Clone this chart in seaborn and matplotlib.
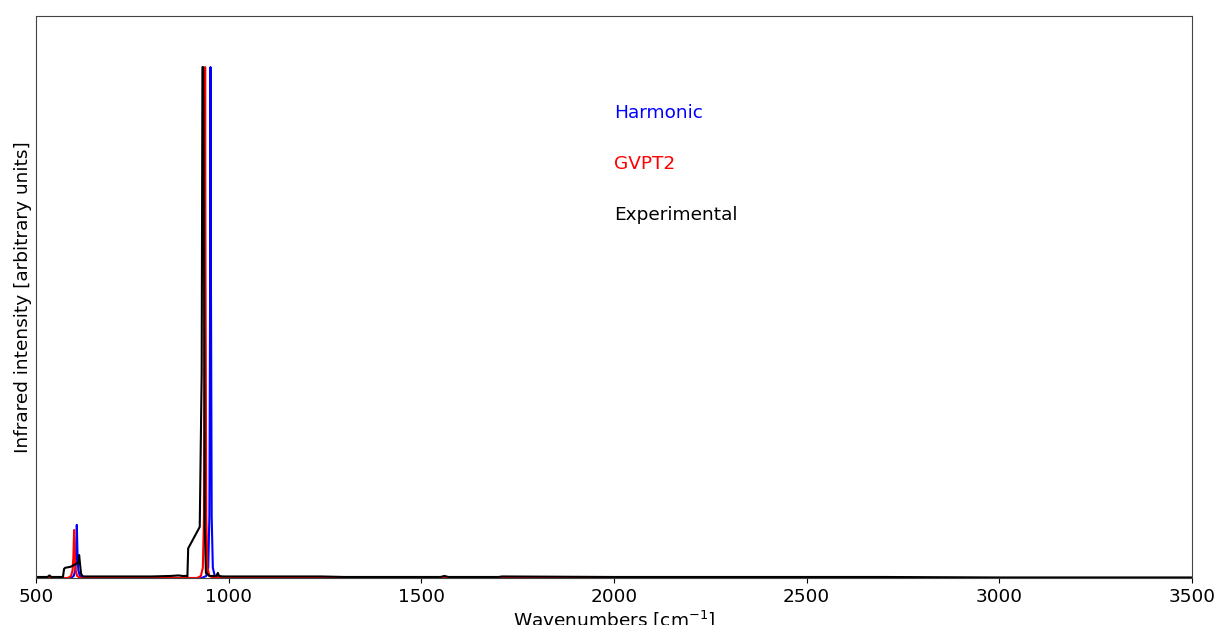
import numpy as np
import pandas as pd
import matplotlib
matplotlib.use('Agg')
import matplotlib.pyplot as plt
import seaborn as sns

# harmonic spectrum (blue)
harm_x = [500, 590, 598, 602, 604, 606, 608, 610, 614, 622, 930, 942, 947, 950, 952, 953, 954, 956, 959, 964, 976, 3500]
harm_y = [0.0, 0.0, 0.004, 0.015, 0.04, 0.104, 0.04, 0.015, 0.004, 0.0, 0.0, 0.004, 0.02, 0.12, 0.6, 1.0, 0.6, 0.12, 0.02, 0.004, 0.0, 0.0]

# anharmonic GVPT2 spectrum (red)
gvpt_x = [500, 583, 591, 595, 597, 599, 601, 603, 607, 615, 918, 928, 933, 936, 938, 939, 940, 942, 945, 950, 962, 968, 972, 980, 3500]
gvpt_y = [0.0, 0.0, 0.004, 0.015, 0.04, 0.094, 0.04, 0.015, 0.004, 0.0, 0.0, 0.004, 0.02, 0.12, 0.6, 1.0, 0.6, 0.12, 0.02, 0.004, 0.0, 0.004, 0.0, 0.0, 0.0]

# experimental spectrum (black)
exp_x = [500, 530, 535, 540, 570, 573, 576, 590, 605, 610, 612, 614, 617, 622, 640, 700, 800, 850, 870, 880, 890, 893,
         895, 925, 930, 932, 934, 936, 938, 941, 950, 968, 972, 975, 985, 1100, 1240, 1300, 1550, 1560, 1570, 1600,
         1700, 1710, 2000, 2300, 2340, 2700, 3000, 3500]
exp_y = [0.002, 0.002, 0.005, 0.002, 0.002, 0.018, 0.02, 0.022, 0.028, 0.03, 0.045, 0.03, 0.008, 0.003, 0.003, 0.003,
         0.003, 0.004, 0.005, 0.004, 0.004, 0.003, 0.058, 0.1, 0.4, 1.0, 1.0, 0.7, 0.1, 0.01, 0.004, 0.004, 0.01,
         0.004, 0.003, 0.003, 0.003, 0.002, 0.002, 0.004, 0.002, 0.002, 0.002, 0.003, 0.002, 0.002, 0.002, 0.002,
         0.001, 0.001]

labels = ['Harmonic', 'GVPT2', 'Experimental']
colors = ['blue', 'red', 'black']
fs = 13.3

fig = plt.figure(figsize=(12.15, 6.25), dpi=100)
ax = fig.add_axes([0.0296, 0.0752, 0.9515, 0.8992])

series = [(harm_x, harm_y), (gvpt_x, gvpt_y), (exp_x, exp_y)]
for (x, y), c in zip(series, colors):
    df = pd.DataFrame({'x': x, 'y': y})
    sns.lineplot(data=df, x='x', y='y', color=c, lw=1.5, ax=ax, sort=False, estimator=None)

for i, (lab, c) in enumerate(zip(labels, colors)):
    ax.text(2000, 0.9 - 0.1 * i, lab, color=c, fontsize=fs)

ax.set_xlim(500, 3500)
ax.set_ylim(0, 1.1)
ax.set_yticks([])
ax.set_xticks(np.arange(500, 3501, 500))
ax.tick_params(axis='x', labelsize=fs)
ax.set_xlabel('Wavenumbers [cm$^{-1}$]', fontsize=fs, labelpad=2)
ax.set_ylabel('Infrared intensity [arbitrary units]', fontsize=fs, labelpad=3)
for s in ax.spines.values():
    s.set_color('#444444')

fig.savefig('out.png', dpi=100)
